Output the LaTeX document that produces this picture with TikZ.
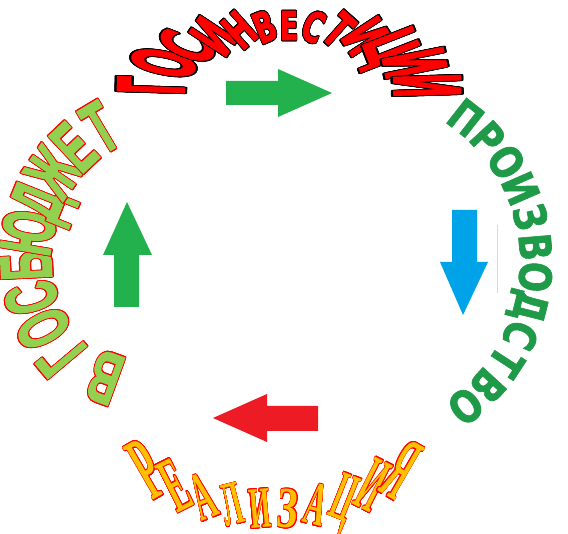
\documentclass[tikz,border=0pt]{standalone}
\usepackage{graphicx}
\usepackage{fontspec}
\usepackage{contour}
\newfontfamily\blockfont{DejaVu Sans}[BoldFeatures={FakeBold=1.6}]
\newfontfamily\bookfont{Liberation Serif}
\newfontfamily\plainfont{Liberation Sans}[BoldFeatures={FakeBold=2.2}]
\contourlength{0.5pt}

\definecolor{paintgreen}{RGB}{34,177,76}
\definecolor{paintblue}{RGB}{0,162,232}
\definecolor{paintred}{RGB}{237,28,36}
\definecolor{wordgreen}{RGB}{31,154,72}
\definecolor{lightgreen}{RGB}{146,208,80}
\definecolor{gold}{RGB}{255,192,0}
\definecolor{paleblue}{RGB}{190,225,245}

\tikzset{
  topletter/.style={inner sep=0pt, anchor=base, text=red,
    font=\blockfont\bfseries\fontsize{20}{20}\selectfont},
  rightletter/.style={inner sep=0pt, anchor=base, text=wordgreen, xscale=0.85, yscale=1.05,
    font=\blockfont\bfseries\fontsize{42}{42}\selectfont},
  bottomletter/.style={inner sep=0pt, anchor=base, text=gold,
    font=\bookfont\bfseries\fontsize{30}{30}\selectfont},
  leftletter/.style={inner sep=0pt, anchor=base, text=lightgreen, xscale=0.8, yscale=1.4,
    font=\plainfont\bfseries\fontsize{52}{52}\selectfont}
}

\begin{document}
\begin{tikzpicture}[x=1pt,y=-1pt]
  \useasboundingbox[fill=white] (0,0) rectangle (568,534);

  % block arrows
  \fill[paintgreen] (226,81) -- (278,81) -- (278,69) -- (332,93) -- (278,117) -- (278,105) -- (226,105) -- cycle;
  \fill[paintblue] (452,210) -- (477,210) -- (477,262) -- (488,262) -- (463,315) -- (440,262) -- (452,262) -- cycle;
  \fill[paintred] (318,406) -- (267,406) -- (267,394) -- (213,418) -- (267,442) -- (267,431) -- (318,431) -- cycle;
  \fill[paintgreen] (114,307) -- (114,255) -- (103,255) -- (127,202) -- (152,255) -- (139,255) -- (139,307) -- cycle;
  \draw[paleblue, line width=0.8pt] (497,225) -- (497,293);

  % top arch
  \foreach \ch [count=\k from 0] in {Г,О,С,И,Н,В,Е,С,Т,И,Ц,И,И}{
    \pgfmathsetmacro\pos{\k/6-1}
    \pgfmathsetmacro\ang{90-86*(0.7*\pos+0.3*\pos*\pos*\pos)}
    \pgfmathsetmacro\xa{289+105*cos(\ang)}
    \pgfmathsetmacro\ya{90-50*sin(\ang)}
    \pgfmathsetmacro\xb{289+172*cos(\ang)}
    \pgfmathsetmacro\yb{90-79*sin(\ang)}
    \pgfmathsetmacro\rot{atan2(\ya-\yb,\xb-\xa)-90}
    \pgfmathsetmacro\len{veclen(\xb-\xa,\yb-\ya)}
    \pgfmathsetmacro\wid{veclen(138*sin(\ang),64*cos(\ang))*(0.7+0.9*\pos*\pos)*86/6*0.01745}
    \node[topletter, rotate=\rot, xscale=0.9*\wid/16, yscale=\len/14.6] (top\k) at (\xa,\ya) {\contour{black}{\ch}};
  }

  % right arch
  \foreach \ch [count=\k from 0] in {П,Р,О,И,З,В,О,Д,С,Т,В,О}{
    \pgfmathsetmacro\ang{52-\k*104/11}
    \node[rotate=\ang-90, rightletter] (right\k) at ({353+167*cos(\ang)},{262-167*sin(\ang)}) {\ch};
  }

  % bottom arch
  \foreach \ch [count=\k from 0] in {Р,Е,А,Л,И,З,А,Ц,И,Я}{
    \pgfmathsetmacro\pos{0.95*(\k*2/9-1)}
    \pgfmathsetmacro\xa{274+118*\pos}
    \pgfmathsetmacro\ya{528-36*\pos*\pos}
    \pgfmathsetmacro\xb{274+150*\pos}
    \pgfmathsetmacro\yb{490-52*\pos*\pos}
    \pgfmathsetmacro\rot{atan2(\ya-\yb,\xb-\xa)-90}
    \pgfmathsetmacro\len{veclen(\xb-\xa,\yb-\ya)}
    \node[bottomletter, rotate=\rot, yscale=\len/19.9] (bottom\k) at (\xa,\ya) {\contourlength{0.4pt}\contour{red}{\resizebox{21pt}{19.9pt}{\ch}}};
  }

  % left arch
  \foreach \ang/\ch [count=\k] in {220/Г,207.6/О,195.2/С,182.8/Б,170.4/Ю,158/Д,145.6/Ж,133.2/Е,120.8/Т}{
    \node[rotate=\ang-90, leftletter] (left\k) at ({178+127*cos(\ang)},{258-127*sin(\ang)}) {\contourlength{0.9pt}\contour{red}{\ch}};
  }
  \node[rotate=160, leftletter, anchor=center] (left0) at (105,377) {\contourlength{0.9pt}\contour{red}{В}};

\end{tikzpicture}
\end{document}
